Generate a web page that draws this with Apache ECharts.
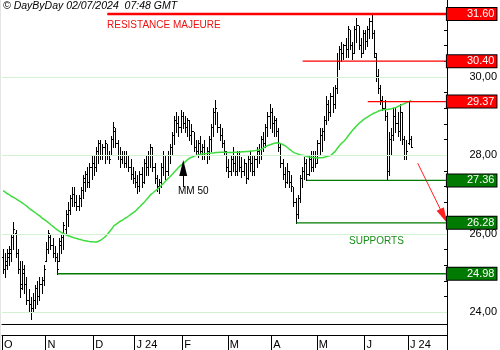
<!DOCTYPE html>
<html><head><meta charset="utf-8">
<script src="https://cdn.jsdelivr.net/npm/echarts@6/dist/echarts.min.js"></script>
<style>html,body{margin:0;padding:0;background:#fff}#c{width:500px;height:350px}</style>
</head><body><div id="c"></div>
<script>
// ---- DATA ----
const firstDay = '2023-10-04';
const holidays = ['2023-12-25','2023-12-26','2024-01-01','2024-03-29','2024-04-01','2024-05-01'];
const totalSlots = 205; // trading-day slots on the axis (data + empty space on the right)
const monthTickLabels = ['O','N','D','J 24','F','M','A','M','J','J 24'];

const open = [
25.4,25.1,25.2,25.4,25.5,25.9,26.0,25.5,25.1,24.7,
25.0,24.7,24.3,24.2,24.1,24.3,24.6,24.4,24.7,24.8,
25.3,25.6,25.9,25.7,25.5,25.4,25.3,25.7,25.9,26.1,
26.5,26.6,26.9,27.0,26.8,26.7,26.9,27.1,27.3,27.5,
27.3,27.7,27.8,27.7,28.1,28.3,28.0,28.2,28.3,28.0,
28.0,28.4,28.6,28.3,28.0,27.9,28.0,27.8,28.0,27.7,
27.5,27.4,27.3,27.2,27.5,27.3,27.8,27.7,28.0,28.2,
27.7,27.4,27.2,27.3,27.7,28.0,27.6,28.0,28.2,28.5,
28.9,28.8,28.7,29.0,28.8,28.7,28.9,28.5,28.6,28.2,
28.1,28.3,28.1,28.2,28.0,28.1,28.4,28.7,29.1,29.2,
28.7,28.5,28.3,28.1,27.7,27.6,27.9,27.8,27.6,28.0,
27.7,27.6,27.8,27.4,27.9,27.8,27.6,27.9,28.1,28.0,
28.4,28.3,28.7,29.0,29.1,28.8,28.9,28.6,28.2,27.8,
27.5,27.3,27.6,27.3,27.2,26.8,26.5,26.9,27.4,27.6,
27.8,27.5,27.9,27.7,28.0,27.8,28.3,28.5,28.6,28.9,
29.3,29.1,29.5,29.3,29.7,30.4,30.7,30.6,30.8,30.7,
31.2,30.8,30.6,31.2,31.3,30.8,30.6,31.1,30.9,31.2,
31.4,31.1,30.5,30.0,29.7,29.4,29.2,29.0,27.6,28.4,
28.5,29.0,28.8,28.6,29.1,28.4,28.0,28.3,28.4];
const high = [
25.6,25.5,25.6,25.7,26.0,26.3,26.1,25.6,25.3,25.3,
25.2,24.9,24.6,24.4,24.5,24.7,24.8,24.9,24.9,25.2,
25.8,26.1,26.0,25.9,25.7,25.5,25.9,26.0,26.3,26.6,
26.8,27.0,27.2,27.2,27.0,27.0,27.2,27.5,27.6,27.7,
27.8,28.0,28.0,28.2,28.4,28.4,28.3,28.4,28.3,28.1,
28.5,28.85,28.7,28.4,28.2,28.1,28.1,28.1,28.0,27.9,
27.7,27.6,27.5,27.6,27.7,27.9,28.0,28.1,28.3,28.2,
27.8,27.5,27.4,27.8,28.1,28.0,28.1,28.3,28.6,29.0,
29.1,29.0,29.15,29.1,29.0,28.95,28.9,28.8,28.6,28.4,
28.4,28.5,28.3,28.4,28.2,28.5,28.8,29.2,29.4,29.1,
28.8,28.7,28.4,28.1,27.9,28.0,28.2,28.0,28.1,28.1,
27.95,27.9,27.8,28.0,28.1,28.0,28.0,28.2,28.3,28.5,
28.6,28.8,29.1,29.3,29.2,29.0,28.95,28.7,28.3,27.9,
27.7,27.8,27.6,27.5,27.2,26.9,27.0,27.5,27.7,27.95,
27.9,28.0,28.1,28.1,28.1,28.4,28.7,28.7,29.0,29.5,
29.4,29.6,29.75,29.8,30.6,30.8,30.9,30.85,31.0,31.3,
31.2,30.9,31.3,31.5,31.3,31.0,31.2,31.2,31.3,31.5,
31.6,31.2,30.6,30.2,29.8,29.5,29.4,29.1,28.6,28.7,
29.2,29.2,29.1,29.3,29.1,28.5,28.4,29.37,28.5];
const low = [
25.0,24.9,25.1,25.2,25.3,25.6,25.4,25.0,24.4,24.6,
24.5,24.2,24.0,23.83,24.0,24.1,24.2,24.3,24.5,24.7,
25.3,25.5,25.6,25.4,25.3,24.98,25.3,25.5,25.6,26.0,
26.2,26.5,26.7,26.7,26.6,26.6,26.7,26.9,27.1,27.2,
27.2,27.4,27.5,27.6,27.8,27.9,27.9,27.8,27.9,27.8,
28.0,28.2,28.2,27.9,27.7,27.8,27.7,27.7,27.6,27.4,
27.3,27.2,27.05,27.1,27.2,27.3,27.5,27.5,27.7,27.6,
27.3,27.1,27.05,27.2,27.5,27.4,27.5,27.8,28.0,28.3,
28.6,28.5,28.6,28.7,28.6,28.5,28.4,28.3,28.1,28.0,
27.95,28.0,27.9,27.9,27.8,27.9,28.1,28.5,28.8,28.6,
28.4,28.2,28.0,27.6,27.45,27.5,27.6,27.5,27.5,27.6,
27.45,27.5,27.3,27.4,27.6,27.5,27.5,27.7,27.8,27.9,
28.1,28.2,28.5,28.7,28.6,28.5,28.5,28.1,27.7,27.4,
27.2,27.3,27.2,27.1,26.7,26.28,26.4,26.8,27.2,27.4,
27.36,27.5,27.6,27.6,27.7,27.8,28.0,28.1,28.4,28.8,
28.9,29.0,29.1,29.2,29.6,30.2,30.4,30.45,30.5,30.5,
30.7,30.45,30.6,30.9,30.7,30.5,30.6,30.7,30.8,31.0,
31.0,30.5,29.9,29.6,29.3,29.15,28.9,27.36,27.5,28.0,
28.4,28.6,28.5,28.4,28.3,27.9,27.9,28.3,28.2];
const close = [
25.1,25.3,25.5,25.6,25.9,26.1,25.5,25.1,24.6,25.1,
24.7,24.3,24.2,24.1,24.3,24.6,24.4,24.7,24.8,25.1,
25.6,26.0,25.7,25.5,25.4,25.1,25.8,25.9,26.2,26.5,
26.6,26.9,27.0,26.8,26.7,26.9,27.1,27.4,27.5,27.3,
27.7,27.8,27.7,28.1,28.3,28.0,28.2,28.3,28.0,27.9,
28.4,28.7,28.3,28.0,27.9,28.0,27.8,28.0,27.7,27.5,
27.4,27.3,27.2,27.5,27.3,27.8,27.7,28.0,28.2,27.7,
27.4,27.2,27.3,27.7,28.0,27.6,28.0,28.2,28.5,28.9,
28.8,28.7,29.0,28.8,28.7,28.9,28.5,28.6,28.2,28.1,
28.3,28.1,28.2,28.0,28.1,28.4,28.7,29.1,29.2,28.7,
28.5,28.3,28.1,27.7,27.6,27.9,27.8,27.6,28.0,27.7,
27.6,27.8,27.4,27.9,27.8,27.6,27.9,28.1,28.0,28.4,
28.3,28.7,29.0,29.1,28.8,28.9,28.6,28.2,27.8,27.5,
27.3,27.6,27.3,27.2,26.8,26.5,26.9,27.4,27.6,27.8,
27.5,27.9,27.7,28.0,27.8,28.3,28.5,28.6,28.9,29.3,
29.1,29.5,29.3,29.7,30.4,30.7,30.6,30.8,30.7,31.2,
30.8,30.6,31.2,31.3,30.8,30.6,31.1,30.9,31.2,31.4,
31.1,30.6,30.0,29.7,29.4,29.2,29.0,27.6,28.4,28.5,
29.0,28.8,28.6,29.1,28.4,28.0,28.1,28.4,28.2];
const mm50 = [
27.10,27.06,27.02,26.99,26.95,26.92,26.89,26.85,26.82,26.78,
26.74,26.70,26.65,26.61,26.57,26.53,26.49,26.45,26.40,26.36,
26.32,26.28,26.23,26.19,26.14,26.10,26.06,26.03,26.00,25.97,
25.95,25.93,25.91,25.89,25.88,25.86,25.85,25.83,25.82,25.81,
25.80,25.80,25.79,25.79,25.81,25.84,25.88,25.92,25.98,26.05,
26.12,26.20,26.24,26.28,26.32,26.35,26.39,26.42,26.46,26.50,
26.54,26.58,26.64,26.69,26.75,26.80,26.87,26.93,27.00,27.04,
27.09,27.13,27.18,27.24,27.29,27.35,27.41,27.46,27.52,27.58,
27.64,27.70,27.75,27.79,27.84,27.89,27.93,27.95,27.98,28.00,
28.01,28.03,28.04,28.04,28.05,28.05,28.06,28.06,28.07,28.07,
28.08,28.08,28.08,28.07,28.07,28.07,28.07,28.08,28.08,28.08,
28.09,28.09,28.10,28.10,28.11,28.11,28.12,28.13,28.14,28.15,
28.19,28.22,28.25,28.27,28.29,28.31,28.32,28.31,28.30,28.27,
28.24,28.20,28.15,28.11,28.07,28.05,28.03,28.01,28.00,27.99,
27.97,27.96,27.95,27.94,27.94,27.93,27.94,27.94,27.95,27.97,
27.98,28.00,28.05,28.10,28.18,28.25,28.31,28.36,28.42,28.50,
28.57,28.64,28.70,28.76,28.82,28.86,28.91,28.95,28.98,29.02,
29.05,29.08,29.10,29.13,29.15,29.16,29.17,29.17,29.18,29.19,
29.21,29.22,29.25,29.27,29.30,29.32,29.35,29.37,29.40];

// horizontal levels: value and starting bar index
const resistanceLevels = [31.60, 30.40, 29.37];
const resistanceStart = [48, 138, 168];
const supportLevels = [27.36, 26.28, 24.98];
const supportStart = [140, 135, 25];
const yLabelValues = [24, 26, 28, 30];
const yTickValues = [24.0,24.4,24.8,25.2,25.6,26.0,26.4,26.8,27.2,27.6,28.0,28.4,28.8,29.2,29.6,30.0,30.4,30.8,31.2,31.6];
const gridValues = [24, 26, 28, 30];
// annotation arrows (category index, value)
const mmArrow = [[83, 27.19], [83, 27.68]];
const targetArrow = [[191, 27.80], [203, 26.45]];

// ---- CATEGORIES (trading days) ----
function buildDays(start, n) {
  const out = [];
  const d = new Date(start + 'T00:00:00Z');
  while (out.length < n) {
    const s = d.toISOString().slice(0, 10);
    const wd = d.getUTCDay();
    if (wd !== 0 && wd !== 6 && holidays.indexOf(s) < 0) out.push(s);
    d.setUTCDate(d.getUTCDate() + 1);
  }
  return out;
}
const days = buildDays(firstDay, totalSlots);
const monthStartLabel = {};
let mi = 0;
days.forEach((s, i) => {
  if (i === 0 || s.slice(5, 7) !== days[i - 1].slice(5, 7)) {
    if (mi < monthTickLabels.length) monthStartLabel[i] = monthTickLabels[mi];
    mi++;
  }
});

const FONT = 'Liberation Sans';
const ohlc = open.map((o, i) => [i, o, high[i], low[i], close[i]]);

function levelSeries(v, start, color, width) {
  return {
    type: 'line', z: 5, silent: true, showSymbol: false, symbol: 'none',
    color: color,
    lineStyle: { color: color, width: width, type: 'solid' },
    data: [[days[start], v], [days[totalSlots - 1], v]],
    endLabel: { show: true, distance: 1, formatter: () => v.toFixed(2),
      color: '#fff', fontSize: 11, fontFamily: FONT, backgroundColor: color,
      borderColor: '#000', borderWidth: 1, padding: [1, 2, 0, 20], lineHeight: 11 },
    emphasis: { disabled: true }
  };
}

const chart = echarts.init(document.getElementById('c'), null, { renderer: 'canvas' });
chart.setOption({
  animation: false,
  backgroundColor: '#fff',
  grid: { left: 2, right: 53, top: 0, bottom: 26 },
  xAxis: [
    { type: 'category', data: days, boundaryGap: true,
      axisLine: { show: true, lineStyle: { color: '#000', width: 1 } },
      axisTick: { show: false }, axisLabel: { show: false }, splitLine: { show: false } },
    { type: 'category', data: days, boundaryGap: true, position: 'bottom', offset: 11,
      axisLine: { show: true, lineStyle: { color: '#000', width: 1 } },
      axisTick: { show: true, length: 15, lineStyle: { color: '#000' },
        interval: (i) => monthStartLabel[i] !== undefined },
      axisLabel: { show: true, interval: (i) => monthStartLabel[i] !== undefined,
        formatter: (v, i) => monthStartLabel[i] || '', align: 'left', margin: 4,
        color: '#000', fontSize: 11, fontFamily: FONT, padding: [0, 0, 0, 1] },
      splitLine: { show: false } }
  ],
  yAxis: {
    type: 'value', position: 'right', min: 23.7, max: 31.96, scale: true,
    axisLine: { show: true, lineStyle: { color: '#000', width: 1 } },
    axisTick: { show: true, inside: true, length: 3, customValues: yTickValues, lineStyle: { color: '#000' } },
    axisLabel: { show: true, customValues: yLabelValues, align: 'right', margin: 50,
      color: '#000', fontSize: 11, fontFamily: FONT,
      formatter: (v) => v.toFixed(2).replace('.', ',') },
    splitLine: { show: false }
  },
  series: [
    { type: 'line', data: [], z: 1, silent: true,
      markLine: { silent: true, symbol: ['none', 'none'], label: { show: false },
        lineStyle: { color: '#d2f2d2', width: 1, type: 'solid' },
        data: gridValues.map(v => ({ yAxis: v })) } },
    { type: 'custom', z: 3, data: ohlc, encode: { x: 0, y: [1, 2, 3, 4] }, silent: true,
      renderItem: function (params, api) {
        const i = api.value(0);
        const pO = api.coord([i, api.value(1)]);
        const pH = api.coord([i, api.value(2)]);
        const pL = api.coord([i, api.value(3)]);
        const pC = api.coord([i, api.value(4)]);
        const xi = Math.round(pO[0] - 0.5);
        const x = xi + 0.5;
        const yo = Math.round(pO[1] - 0.5) + 0.5;
        const yc = Math.round(pC[1] - 0.5) + 0.5;
        const st = { stroke: '#000', lineWidth: 1 };
        return { type: 'group', children: [
          { type: 'line', shape: { x1: x, y1: Math.round(pH[1]), x2: x, y2: Math.round(pL[1]) + 1 }, style: st },
          { type: 'line', shape: { x1: xi - 1, y1: yo, x2: xi, y2: yo }, style: st },
          { type: 'line', shape: { x1: xi + 1, y1: yc, x2: xi + 2, y2: yc }, style: st }
        ] };
      } },
    { type: 'line', data: mm50, z: 4, showSymbol: false, silent: true,
      lineStyle: { color: '#3fdc3f', width: 1.5 },
      markLine: { silent: true, label: { show: false }, symbol: ['none', 'triangle'],
        data: [
          [ { coord: [days[mmArrow[0][0]], mmArrow[0][1]], symbolSize: [11, 9],
              lineStyle: { color: '#000', width: 1, type: 'solid' } },
            { coord: [days[mmArrow[1][0]], mmArrow[1][1]] } ],
          [ { coord: [days[targetArrow[0][0]], targetArrow[0][1]], symbolSize: [8, 13],
              lineStyle: { color: '#ff2020', width: 1, type: 'solid' } },
            { coord: [days[targetArrow[1][0]], targetArrow[1][1]] } ]
        ] } },
    levelSeries(resistanceLevels[0], resistanceStart[0], '#ff0000', 2.5),
    levelSeries(resistanceLevels[1], resistanceStart[1], '#ff0000', 1.2),
    levelSeries(resistanceLevels[2], resistanceStart[2], '#ff0000', 1.2),
    levelSeries(supportLevels[0], supportStart[0], '#007a00', 1.2),
    levelSeries(supportLevels[1], supportStart[1], '#007a00', 1.2),
    levelSeries(supportLevels[2], supportStart[2], '#007a00', 1.6)
  ],
  graphic: [
    { type: 'rect', left: 0, top: 0, shape: { width: 1, height: 350 }, style: { fill: '#e4e4e4' }, silent: true },
    { type: 'line', shape: { x1: 447.5, y1: 324, x2: 447.5, y2: 350 }, style: { stroke: '#000', lineWidth: 1 }, silent: true },
    { type: 'text', left: 3, top: 1, style: { text: '\u00A9 DayByDay 02/07/2024  07:48 GMT', fill: '#000',
        font: 'italic 10.5px "Liberation Sans"' }, silent: true },
    { type: 'text', left: 107, top: 20, style: { text: 'RESISTANCE MAJEURE', fill: '#ee1111',
        font: '10px "Liberation Sans"' }, silent: true },
    { type: 'text', left: 349, top: 236, style: { text: 'SUPPORTS', fill: '#1a8c1a',
        font: '10px "Liberation Sans"' }, silent: true },
    { type: 'text', left: 178, top: 186, style: { text: 'MM 50', fill: '#000',
        font: '10px "Liberation Sans"' }, silent: true }
  ]
});
</script></body></html>
